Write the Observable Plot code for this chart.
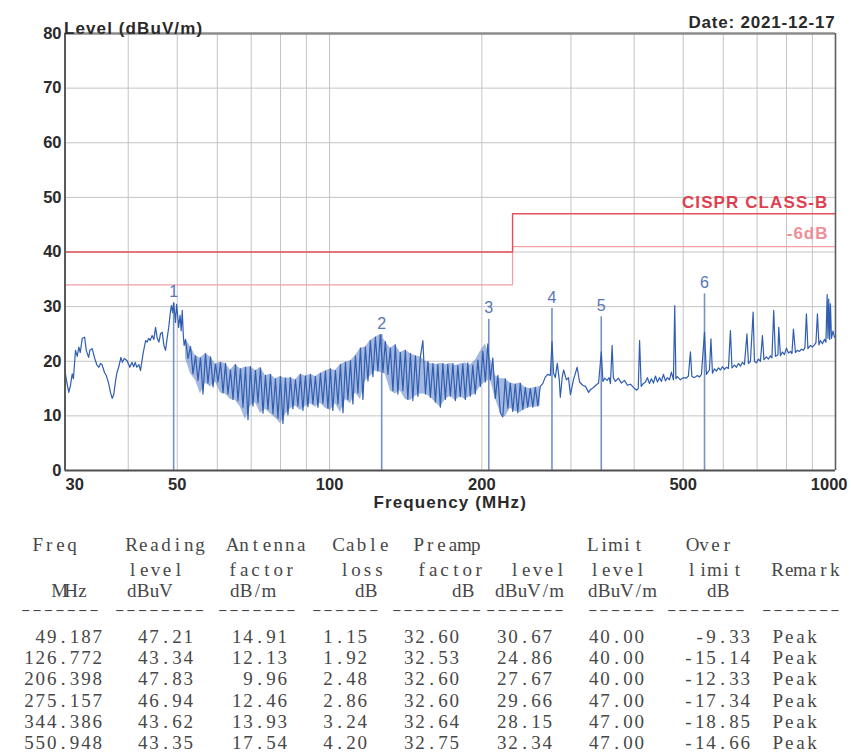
<!DOCTYPE html>
<html>
<head>
<meta charset="utf-8">
<script src="https://cdn.jsdelivr.net/npm/d3@7"></script>
<script src="https://cdn.jsdelivr.net/npm/@observablehq/plot@0.6"></script>
<style>
  html, body { margin: 0; padding: 0; background: #fff; }
  #wrap { position: relative; width: 851px; height: 756px; overflow: hidden; background: #fff; }
  #wrap > svg.tbl { position: absolute; left: 0; top: 0; pointer-events: none; }
</style>
</head>
<body>
<div id="wrap"></div>
<script>
// ---------------- data ----------------
// spectrum trace, 30 - 52 MHz  [freq MHz, level dBuV/m]
const traceLow = [[30.0,18.3],[30.2,16.5],[30.52,14.3],[30.76,15.6],[31.0,17.7],[31.17,16.8],[31.47,22.0],[31.72,20.9],[31.95,22.6],[32.16,21.6],[32.45,24.2],[32.8,24.4],[33.05,22.0],[33.4,20.7],[33.6,22.0],[33.95,22.3],[34.35,20.5],[34.66,19.4],[35.0,18.9],[35.27,19.6],[35.5,19.4],[35.92,17.9],[36.2,17.4],[36.6,15.9],[36.9,14.3],[37.2,13.2],[37.45,13.9],[37.75,16.3],[38.0,17.9],[38.3,18.9],[38.7,20.7],[38.95,19.8],[39.3,20.5],[39.8,20.1],[40.3,18.9],[40.7,19.8],[41.0,19.0],[41.3,19.8],[41.6,18.9],[42.0,19.4],[42.3,18.3],[42.8,21.4],[43.3,23.8],[43.6,23.5],[43.9,24.2],[44.2,23.8],[44.6,24.7],[44.95,24.0],[45.3,26.2],[45.65,24.2],[46.0,23.5],[46.35,25.1],[46.7,25.3],[47.05,22.9],[47.4,22.0],[47.75,24.2],[48.1,26.2],[48.5,29.3],[48.7,30.2],[48.95,28.9],[49.19,30.7],[49.4,28.9],[49.6,27.1],[49.85,30.4],[50.1,28.4],[50.3,26.2],[50.65,28.4],[50.9,25.6],[51.15,29.3],[51.4,24.7],[51.6,22.9]];
// spectrum trace, 52 - 275 MHz
const traceMid = [[51.92,24.0],[52.51,20.5],[53.11,22.7],[53.72,17.7],[54.33,21.0],[54.95,16.5],[55.58,20.6],[56.22,14.0],[56.86,21.4],[57.51,16.0],[58.17,20.8],[58.84,15.3],[59.51,19.5],[60.19,16.2],[60.88,19.8],[61.58,14.2],[62.28,19.6],[62.99,14.0],[63.71,18.4],[64.44,13.0],[65.17,19.4],[65.92,12.8],[66.67,18.6],[67.44,11.6],[68.21,18.9],[68.99,9.3],[69.77,19.0],[70.57,11.8],[71.38,18.3],[72.2,12.4],[73.02,18.8],[73.86,10.5],[74.7,17.4],[75.56,11.2],[76.42,17.6],[77.3,10.4],[78.18,16.8],[79.07,9.6],[79.97,17.2],[80.89,8.6],[81.81,16.9],[82.75,10.2],[83.69,17.0],[84.65,11.3],[85.62,16.6],[86.6,11.8],[87.59,17.6],[88.59,11.0],[89.6,17.3],[90.63,11.7],[91.67,17.6],[92.72,12.2],[93.77,17.2],[94.85,11.6],[95.93,17.8],[97.03,12.3],[98.14,18.2],[99.26,11.4],[100.4,18.6],[101.5,11.0],[102.7,18.3],[103.9,12.2],[105.1,19.4],[106.3,10.6],[107.5,19.8],[108.7,13.0],[110.0,20.1],[111.2,12.2],[112.5,21.0],[113.8,14.2],[115.1,22.4],[116.4,13.0],[117.7,22.6],[119.1,16.4],[120.4,23.8],[121.8,17.2],[123.2,24.4],[124.6,18.2],[126.0,24.9],[127.5,18.0],[128.9,23.6],[130.4,17.6],[131.9,22.4],[133.4,14.6],[134.9,23.0],[136.5,14.0],[138.0,21.6],[139.6,14.6],[141.2,22.0],[142.8,13.0],[144.5,21.4],[146.1,12.8],[147.8,21.0],[149.5,13.6],[151.2,20.8],[152.9,23.8],[154.7,14.0],[156.5,20.0],[158.2,13.4],[160.1,19.6],[161.9,12.5],[163.7,19.4],[165.6,11.6],[167.5,19.6],[169.4,13.0],[171.3,19.4],[173.3,13.6],[175.3,19.6],[177.3,12.8],[179.3,19.2],[181.3,13.5],[183.4,19.5],[185.5,13.0],[187.6,19.7],[189.8,13.6],[191.9,19.3],[194.1,14.0],[196.4,20.2],[198.6,15.4],[200.9,21.8],[203.2,16.2],[205.5,23.2],[207.9,16.6],[210.2,20.6],[212.6,13.2],[215.1,17.4],[217.5,10.6],[220.0,9.8],[222.5,16.8],[225.1,11.4],[227.6,16.0],[230.2,10.8],[232.9,15.8],[235.5,10.6],[238.2,16.0],[241.0,11.2],[243.7,15.2],[246.5,11.6],[249.3,15.0],[252.2,11.6],[255.1,15.2],[258.0,11.8],[260.9,15.4],[263.9,15.9],[266.9,17.1],[270.0,17.6],[273.1,17.4],[275.2,23.6]];
// spectrum trace, 275 - 1000 MHz
const traceHigh = [[277.2,17.8],[279.4,17.0],[281.9,19.6],[284.5,16.6],[285.8,13.4],[288.4,17.2],[290.2,18.4],[293.8,16.6],[296.6,17.0],[299.3,13.9],[303.4,16.6],[308.6,18.9],[312.0,16.2],[316.5,15.6],[320.5,15.4],[325.1,14.3],[327.8,14.8],[332.4,15.2],[336.9,15.7],[340.2,16.0],[344.4,21.7],[347.0,16.3],[349.9,16.9],[353.6,16.5],[356.9,17.0],[359.1,15.9],[361.8,22.9],[363.9,17.0],[367.3,16.3],[372.3,16.9],[377.5,16.0],[382.7,16.5],[388.0,15.6],[393.3,15.8],[398.6,15.2],[404.7,14.7],[407.5,15.0],[410.0,23.8],[413.0,15.4],[416.7,15.9],[421.1,16.2],[424.9,17.0],[428.8,15.9],[432.7,16.8],[436.7,16.0],[440.7,17.3],[444.7,16.2],[448.8,17.0],[452.9,16.3],[457.0,17.6],[461.2,16.4],[465.4,17.0],[469.7,16.6],[473.9,18.0],[478.3,16.6],[481.1,30.2],[483.7,16.8],[486.9,17.2],[493.7,16.6],[500.5,17.0],[507.4,16.9],[512.0,17.3],[516.7,21.7],[520.2,17.2],[526.2,17.0],[533.4,17.4],[538.4,17.1],[543.3,17.6],[550.9,25.3],[555.8,17.6],[558.3,17.9],[563.4,18.4],[567.3,24.1],[571.2,17.8],[576.4,18.6],[581.6,18.2],[587.0,18.8],[592.3,18.4],[597.8,19.0],[603.2,18.5],[608.8,18.9],[614.3,18.7],[619.9,25.6],[624.2,18.8],[631.3,19.3],[637.1,18.9],[643.0,19.6],[648.8,19.1],[654.8,19.8],[660.7,19.4],[668.3,25.0],[672.9,19.6],[679.0,20.0],[687.4,29.0],[691.5,20.0],[697.8,19.7],[704.2,20.4],[710.6,20.0],[717.1,24.7],[722.1,20.3],[730.4,20.8],[737.0,20.4],[743.7,21.0],[748.8,20.6],[754.9,29.3],[760.8,20.9],[769.5,21.2],[772.4,26.2],[778.3,21.0],[785.4,21.7],[792.6,21.2],[799.8,22.4],[807.2,21.5],[814.6,21.8],[820.2,21.4],[825.8,25.9],[833.3,21.6],[840.9,22.0],[848.6,21.8],[856.4,22.2],[864.2,22.0],[870.1,22.5],[876.0,28.7],[882.0,22.3],[892.2,22.9],[900.3,22.6],[908.6,23.0],[914.8,23.4],[921.1,28.7],[927.4,23.0],[933.7,23.8],[942.3,23.2],[950.9,24.0],[957.4,23.5],[962.7,32.2],[966.2,24.2],[969.7,31.4],[973.6,24.0],[977.2,30.5],[981.7,24.2],[988.4,25.5],[995.3,24.4],[1000,24.6]];

// envelope of the dense noise band, 52 - 261 MHz
const bandFreq = [51.92,53.11,54.33,55.58,56.86,58.17,59.51,60.88,62.28,63.71,65.17,66.67,68.21,69.77,71.38,73.02,74.7,76.42,78.18,79.97,81.81,83.69,85.62,87.59,89.6,91.67,93.77,95.93,98.14,100.4,102.7,105.1,107.5,110.0,112.5,115.1,117.7,120.4,123.2,126.0,128.9,131.9,134.9,138.0,141.2,144.5,147.8,151.2,154.7,158.2,161.9,165.6,169.4,173.3,177.3,181.3,185.5,189.8,194.1,198.6,203.2,207.9,212.6,217.5,222.5,227.6,232.9,238.2,243.7,249.3,255.1,260.9];
const bandHigh = [24.0,22.7,21.0,20.6,21.4,20.8,19.5,19.8,19.6,18.4,19.4,18.6,18.9,19.0,18.3,18.8,17.4,17.6,16.8,17.2,16.9,17.0,16.6,17.6,17.3,17.6,17.2,17.8,18.2,18.6,18.3,19.4,19.8,20.1,21.0,22.4,22.6,23.8,24.4,24.9,23.6,22.4,23.0,21.6,22.0,21.4,21.0,20.8,20.0,19.6,19.4,19.6,19.4,19.6,19.2,19.5,19.7,19.3,20.2,21.8,23.2,20.6,17.4,16.8,16.8,16.0,15.8,16.0,15.2,15.0,15.2,15.4];
const bandLow  = [20.5,17.7,16.5,14.0,16.0,15.3,16.2,14.2,14.0,13.0,12.8,11.6,9.3,11.8,12.4,10.5,11.2,10.4,9.6,8.6,10.2,11.3,11.8,11.0,11.7,12.2,11.6,12.3,11.4,11.0,12.2,10.6,13.0,12.2,14.2,13.0,16.4,17.2,18.2,18.0,17.6,14.6,14.0,14.6,13.0,12.8,13.6,14.0,14.0,13.4,12.5,11.6,13.0,13.6,12.8,13.5,13.0,13.6,14.0,15.4,16.2,16.6,13.2,10.6,9.8,11.4,10.8,10.6,11.2,11.6,11.6,11.8];

// limit lines
const limitFreq = [30, 230, 230, 1000];
const classBLevel = [40, 40, 47, 47];
const minus6Level = [34, 34, 41, 41];

// measured peaks (table)
const tFreq    = [49.187, 126.772, 206.398, 275.157, 344.386, 550.948];
const tReading = [47.21, 43.34, 47.83, 46.94, 43.62, 43.35];
const tAntenna = [14.91, 12.13, 9.96, 12.46, 13.93, 17.54];
const tCable   = [1.15, 1.92, 2.48, 2.86, 3.24, 4.20];
const tPreamp  = [32.60, 32.53, 32.60, 32.60, 32.64, 32.75];
const tLevel   = [30.67, 24.86, 27.67, 29.66, 28.15, 32.34];
const tLimit   = [40.00, 40.00, 40.00, 47.00, 47.00, 47.00];
const tOver    = [-9.33, -15.14, -12.33, -17.34, -18.85, -14.66];
const tRemark  = ["Peak", "Peak", "Peak", "Peak", "Peak", "Peak"];
const markerLabels = ["1", "2", "3", "4", "5", "6"];

// axis ticks
const gridX = [40, 50, 60, 70, 80, 90, 100, 200, 300, 400, 500, 600, 700, 800, 900];
const gridY = [10, 20, 30, 40, 50, 60, 70];
const yTicks = [0, 10, 20, 30, 40, 50, 60, 70, 80];
const xTicksMid = [50, 100, 200, 500];
const xTickFirst = [30];
const xTickLast = [1000];

// ---------------- chart ----------------
const trace = traceLow.concat(traceMid, traceHigh);
const band = bandFreq.map((f, i) => ({f, hi: bandHigh[i], lo: bandLow[i]}));
const markers = tFreq.map((f, i) => ({f, level: tLevel[i], label: markerLabels[i]}));
const classB = limitFreq.map((f, i) => ({f, v: classBLevel[i]}));
const minus6 = limitFreq.map((f, i) => ({f, v: minus6Level[i]}));

const FONT = "'Liberation Sans', Arial, Helvetica, sans-serif";
const tickStyle = {fontSize: 16.5, fontWeight: "bold", fill: "#2a2a2a", fontFamily: FONT};

const chart = Plot.plot({
  width: 851,
  height: 528,
  marginTop: 33,
  marginRight: 16,
  marginBottom: 58,
  marginLeft: 64.5,
  style: {background: "white", fontFamily: FONT, overflow: "visible"},
  x: {type: "log", domain: [30, 1000], axis: null},
  y: {domain: [0, 80], axis: null},
  marks: [
    Plot.ruleX(gridX, {stroke: "#c4c4c4", strokeWidth: 1}),
    Plot.ruleY(gridY, {stroke: "#c4c4c4", strokeWidth: 1}),
    Plot.line(minus6, {x: "f", y: "v", stroke: "#f0a0a6", strokeWidth: 1.3}),
    Plot.line(classB, {x: "f", y: "v", stroke: "#e3505b", strokeWidth: 1.4}),
    Plot.areaY(band, {x: "f", y1: "lo", y2: "hi", fill: "#4b74c2", fillOpacity: 0.5}),
    Plot.ruleX(markers, {x: "f", y1: 0, y2: "level", stroke: "#7691c8", strokeWidth: 1.6}),
    Plot.line(trace, {x: d => d[0], y: d => d[1], stroke: "#2f5db0", strokeWidth: 1.2}),
    Plot.text(markers, {x: "f", y: "level", text: "label", dy: -11, fill: "#5675b8", fontSize: 16, fontFamily: FONT}),
    // frame
    Plot.ruleY([80], {stroke: "#8c8c8c", strokeWidth: 2.5}),
    Plot.ruleX([1000], {stroke: "#5e5e5e", strokeWidth: 1.6}),
    Plot.ruleX([30], {stroke: "#5a5a5a", strokeWidth: 2}),
    Plot.ruleY([0], {stroke: "#4f4f4f", strokeWidth: 2}),
    // y tick labels
    Plot.text(yTicks, {x: 30, y: d => d, text: d => String(d), textAnchor: "end", dx: -3.5, ...tickStyle}),
    // x tick labels
    Plot.text(xTicksMid, {x: d => d, y: 0, text: d => String(d), dy: 14, ...tickStyle}),
    Plot.text(xTickFirst, {x: d => d, y: 0, text: d => String(d), textAnchor: "start", dy: 14, dx: 0.5, ...tickStyle}),
    Plot.text(xTickLast, {x: d => d, y: 0, text: d => String(d), textAnchor: "end", dy: 14, dx: 12, ...tickStyle}),
    // titles
    Plot.text(["Level (dBuV/m)"], {frameAnchor: "top-left", text: d => d, textAnchor: "start", dx: -1, dy: -11.5, fontSize: 17, fontWeight: "bold", fill: "#2a2a2a", fontFamily: FONT}),
    Plot.text(["Date: 2021-12-17"], {frameAnchor: "top-right", text: d => d, textAnchor: "end", dx: 0, dy: -18, fontSize: 17, fontWeight: "bold", fill: "#2a2a2a", fontFamily: FONT}),
    Plot.text(["Frequency (MHz)"], {frameAnchor: "bottom", text: d => d, dy: 37, fontSize: 17, fontWeight: "bold", fill: "#2a2a2a", fontFamily: FONT}),
    Plot.text(["CISPR CLASS-B"], {x: 1000, y: 47, text: d => d, textAnchor: "end", dx: -7, dy: -11.5, fontSize: 17, fontWeight: "bold", fill: "#df3f4e", fontFamily: FONT}),
    Plot.text(["-6dB"], {x: 1000, y: 41, text: d => d, textAnchor: "end", dx: -7, dy: -13, fontSize: 17, fontWeight: "bold", fill: "#ee8e96", fontFamily: FONT})
  ]
});

// letter spacing for title-like texts
const spaced = {"Level (dBuV/m)": 1.1, "Date: 2021-12-17": 0.8, "Frequency (MHz)": 1.1, "CISPR CLASS-B": 1.1, "-6dB": 1.0};
d3.select(chart).selectAll("text").each(function () {
  const t = this.textContent;
  if (spaced[t] != null) this.setAttribute("letter-spacing", spaced[t]);
});

const wrap = document.getElementById("wrap");
wrap.appendChild(chart);

// ---------------- table ----------------
const CW = 11.4;
const tbl = d3.select(wrap).append("svg")
  .attr("class", "tbl")
  .attr("width", 851).attr("height", 756)
  .attr("font-family", "'Liberation Serif', 'Times New Roman', serif")
  .attr("font-size", 19)
  .attr("fill", "#474747");

function cellLeft(str, left, baseline, size, weight) {
  const xs = Array.from(str, (_, i) => (left + CW * (i + 0.5)).toFixed(1)).join(" ");
  const t = tbl.append("text").attr("x", xs).attr("y", baseline).attr("text-anchor", "middle").text(str);
  if (size) t.attr("font-size", size);
  if (weight) t.attr("font-weight", weight);
}
function cellRight(str, right, baseline) {
  cellLeft(str, right - CW * str.length, baseline);
}

const hdrBase = [551, 576, 597.2];
const headers = [
  ["Freq", 32, 0], ["Reading", 126, 0], ["Antenna", 227, 0], ["Cable", 333, 0], ["Preamp", 413, 0], ["Limit", 587, 0], ["Over", 687, 0],
  ["level", 127, 1], ["factor", 227, 1], ["loss", 339, 1], ["factor", 416, 1], ["level", 509, 1], ["level", 589, 1], ["limit", 686, 1], ["Remark", 772, 1],
  ["MHz", 54, 2], ["dBuV", 126, 2], ["dB/m", 229, 2], ["dB", 354, 2], ["dB", 451, 2], ["dBuV/m", 494, 2], ["dBuV/m", 587, 2], ["dB", 706, 2]
];
headers.forEach(([s, x, r]) => cellLeft(s, x, hdrBase[r]));

const dashGroups = [[20, 7], [114, 8], [217, 7], [311, 6], [391, 8], [485, 7], [587, 6], [666, 7], [761, 7]];
dashGroups.forEach(([x, n]) => cellLeft("\u2013".repeat(n), x, 614, 14, "bold"));

const colRight = [103, 194, 288, 368, 460, 553, 645, 751];
const remarkLeft = 772;
const rowBase0 = 642.7, rowPitch = 21.3;
tFreq.forEach((f, i) => {
  const b = rowBase0 + rowPitch * i;
  const vals = [
    f.toFixed(3), tReading[i].toFixed(2), tAntenna[i].toFixed(2), tCable[i].toFixed(2),
    tPreamp[i].toFixed(2), tLevel[i].toFixed(2), tLimit[i].toFixed(2), tOver[i].toFixed(2)
  ];
  vals.forEach((s, c) => cellRight(s, colRight[c], b));
  cellLeft(tRemark[i], remarkLeft, b);
});
</script>
</body>
</html>
